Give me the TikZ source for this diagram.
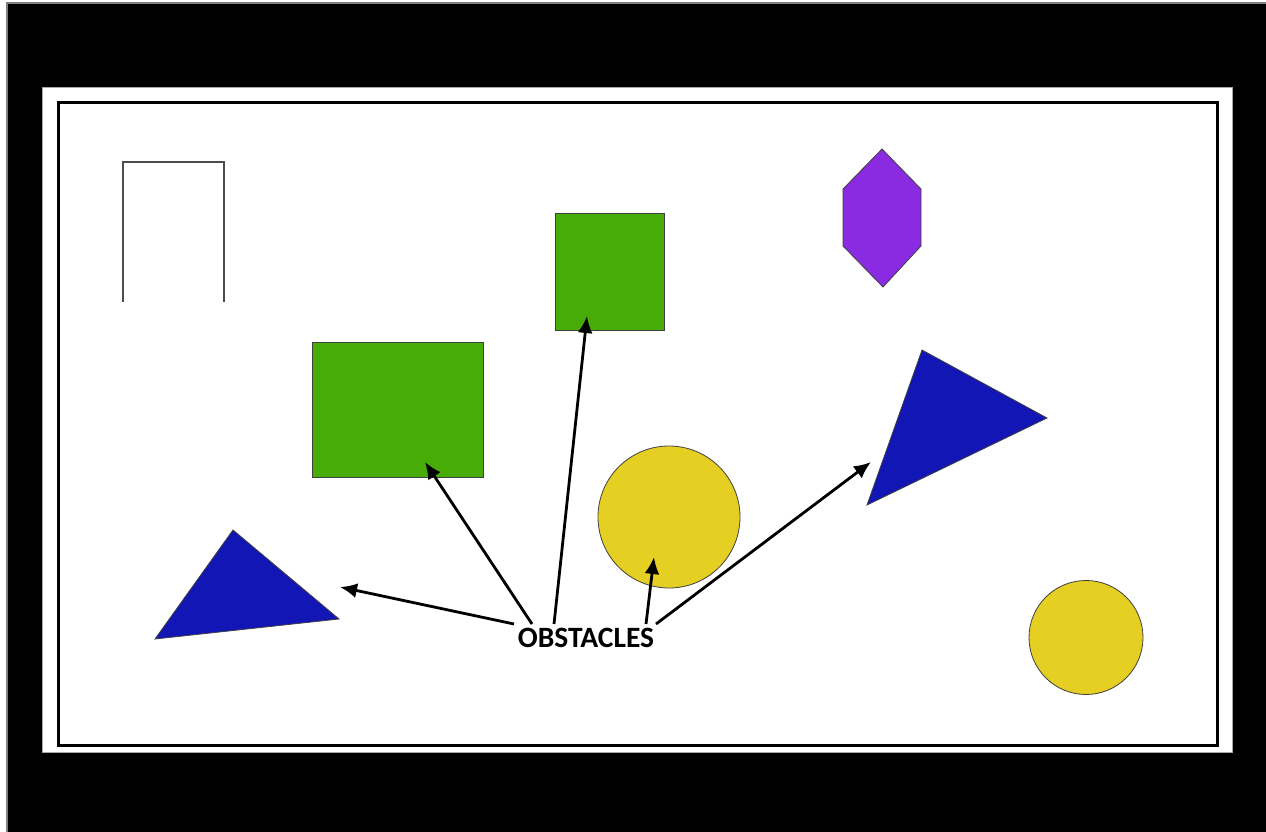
\documentclass[tikz,border=0pt]{standalone}
\usepackage{fontspec}
\newfontfamily\labelfont{Carlito}
\usetikzlibrary{arrows.meta}
\definecolor{obgreen}{RGB}{71,172,8}
\definecolor{obyellow}{RGB}{230,207,35}
\definecolor{obblue}{RGB}{17,22,180}
\definecolor{obpurple}{RGB}{138,43,226}
\tikzset{
  shape edge/.style={draw=black!75, line width=0.8pt},
  pointer/.style={draw=black, line width=2.8pt, -{Latex[length=17pt,width=15pt]}},
}
\begin{document}
\begin{tikzpicture}[x=1pt,y=-1pt]
\useasboundingbox (0,0) rectangle (1266,832);
% page and black surround
\fill[white] (0,0) rectangle (1266,832);
\fill[black] (7,3) rectangle (1266,832);
\draw[gray, line width=1.5pt] (7,832) -- (7,3) -- (1266,3);
% white field with its double frame
\filldraw[fill=white, draw=gray!70, line width=1pt] (42,88) rectangle (1232,752);
\draw[black, line width=3pt] (58.5,102.5) rectangle (1217,745.5);
% open box at top left
\draw[gray!60!black, line width=1.2pt] (123,302) -- (123,162) -- (224,162) -- (224,302);
% obstacles
\filldraw[fill=obgreen, shape edge] (312,342) rectangle (483,477);
\filldraw[fill=obgreen, shape edge] (555,213) rectangle (664,330);
\filldraw[fill=obpurple, shape edge] (882,149) -- (921,189) -- (921,246) -- (883,287) -- (843,246) -- (843,189) -- cycle;
\filldraw[fill=obblue, shape edge] (233,530) -- (339,619) -- (155,639) -- cycle;
\filldraw[fill=obblue, shape edge] (922,350) -- (1047,418) -- (867,505) -- cycle;
\filldraw[fill=obyellow, shape edge] (669,517) circle[radius=71];
\filldraw[fill=obyellow, shape edge] (1086,637.5) circle[radius=57];
% label and its pointers
\node[inner sep=0pt, font=\labelfont\bfseries\fontsize{29.5}{31}\selectfont] (lbl) at (586,638) {OBSTACLES};
\coordinate (s1) at (514,624);
\coordinate (s2) at (532,624);
\coordinate (s3) at (554,624);
\coordinate (s4) at (646,624);
\coordinate (s5) at (656,624);
\coordinate (t1) at (340,587);
\coordinate (t2) at (425,462);
\coordinate (t3) at (587,316);
\coordinate (t4) at (654,557);
\coordinate (t5) at (871,462);
\draw[pointer] (s1) -- (t1);
\draw[pointer] (s2) -- (t2);
\draw[pointer] (s3) -- (t3);
\draw[pointer] (s4) -- (t4);
\draw[pointer] (s5) -- (t5);
\end{tikzpicture}
\end{document}
